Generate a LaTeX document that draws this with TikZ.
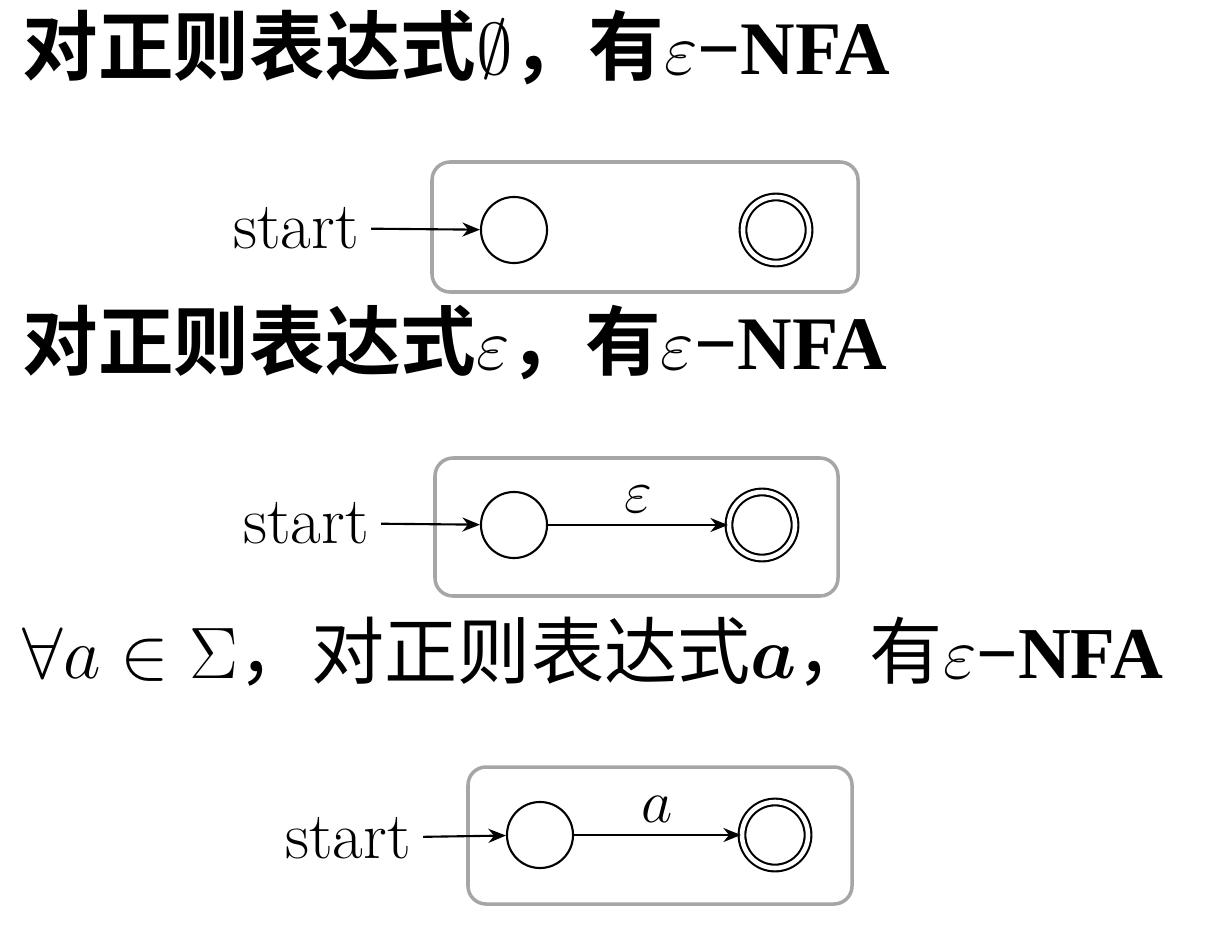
\documentclass[tikz,border=0pt]{standalone}
\usepackage{fontspec}
\usepackage{amsmath,amssymb}
\setmainfont{Liberation Serif}
\newfontfamily\cjkb[BoldFont={Noto Sans CJK SC Bold}]{Noto Sans CJK SC}
\newfontfamily\lmr{Latin Modern Roman}
\usetikzlibrary{arrows.meta}
\begin{document}
\begin{tikzpicture}[x=0.01cm,y=-0.01cm]
\tikzset{
  st/.style={draw,circle,minimum size=0.66cm,inner sep=0pt,line width=0.6pt},
  acc/.style={st,double,double distance=1.3pt},
  frame/.style={draw=gray!70,rounded corners=0.18cm,line width=1pt},
  lbl/.style={font=\lmr\fontsize{19}{22}\selectfont},
  hd/.style={anchor=west,inner sep=0pt,font=\fontsize{21.5}{24}\selectfont},
  tr/.style={-{Stealth[length=5pt,width=4pt]},line width=0.6pt}
}
\useasboundingbox (0,0) rectangle (1212,924);
% first
\node[hd] (h1) at (22,48) {{\cjkb\bfseries 对正则表达式}$\emptyset${\cjkb\bfseries ，有}$\varepsilon$\textbf{−NFA}};
\draw[frame] (432,162) rectangle (858,292);
\node[lbl] (s1) at (296,228) {start};
\node[st] (p1) at (514,230) {};
\node[acc] (q1) at (776,230) {};
\draw[tr] (s1) -- (p1);
% second
\node[hd] (h2) at (22,343) {{\cjkb\bfseries 对正则表达式}$\varepsilon${\cjkb\bfseries ，有}$\varepsilon$\textbf{−NFA}};
\draw[frame] (435,458) rectangle (838,596);
\node[lbl] (s2) at (306,523) {start};
\node[st] (p2) at (514,525) {};
\node[acc] (q2) at (762,525) {};
\draw[tr] (s2) -- (p2);
\draw[tr] (p2) -- node[above,lbl] {$\varepsilon$} (q2);
% third
\node[hd,font=\fontsize{20.8}{24}\selectfont] (h3) at (22,652) {$\forall a\in\Sigma${\cjkb ，对正则表达式}$\boldsymbol{a}${\cjkb ，有}$\varepsilon$\textbf{−NFA}};
\draw[frame] (468,767) rectangle (852,904);
\node[lbl] (s3) at (348,838) {start};
\node[st] (p3) at (540,835) {};
\node[acc] (q3) at (775,835) {};
\draw[tr] (s3) -- (p3);
\draw[tr] (p3) -- node[above,lbl] {$a$} (q3);
\end{tikzpicture}
\end{document}
